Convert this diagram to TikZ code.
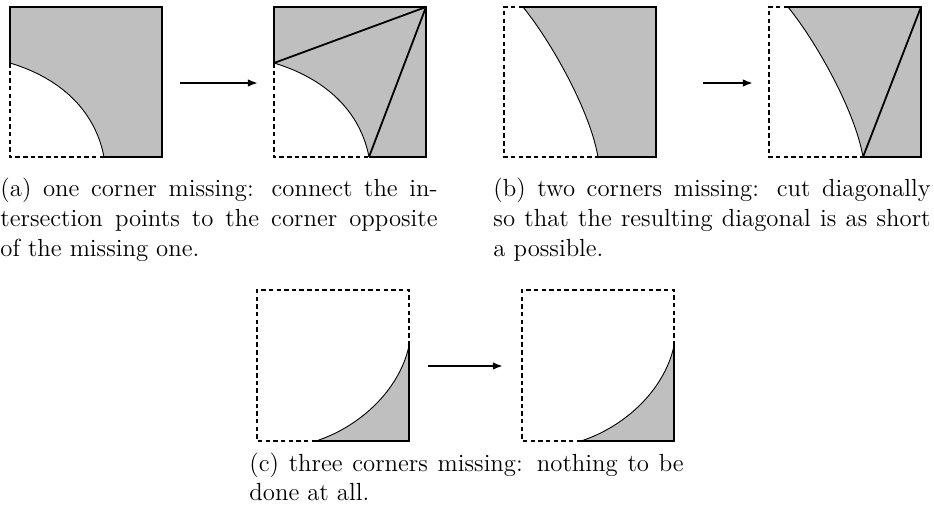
\documentclass[tikz,border=0pt]{standalone}
\usetikzlibrary{arrows.meta}
\begin{document}
\begin{tikzpicture}[x=0.4444pt,y=-0.4444pt,
  edge/.style={line width=0.8pt},
  miss/.style={line width=0.8pt, dash pattern=on 2pt off 1.4pt},
  cutline/.style={line width=0.4pt},
  diag/.style={line width=0.8pt},
  shade/.style={fill=black!25},
  arr/.style={line width=1.1pt,-{Latex[length=4.5pt,width=3.4pt]}},
  captext/.style={text width=194.3pt, align=justify, inner sep=0pt, anchor=north west, font=\fontsize{11}{13.3}\selectfont}]
\useasboundingbox (0,0) rectangle (934,515);

% ---- panel a1 ----
\begin{scope}[shift={(10,7)}]
  \fill[shade] (0,56) .. controls (50,71) and (85,103) .. (94,150) -- (152,150) -- (152,0) -- (0,0) -- cycle;
  \draw[cutline] (0,56) .. controls (50,71) and (85,103) .. (94,150);
  \draw[edge] (0,56) -- (0,0) -- (152,0) -- (152,150) -- (94,150);
  \draw[miss] (0,56) -- (0,150) -- (94,150);
\end{scope}
% ---- panel a2 ----
\begin{scope}[shift={(274,7)}]
  \fill[shade] (0,56) .. controls (50,71) and (86,103) .. (95,150) -- (152,150) -- (152,0) -- (0,0) -- cycle;
  \draw[cutline] (0,56) .. controls (50,71) and (86,103) .. (95,150);
  \draw[edge] (0,56) -- (0,0) -- (152,0) -- (152,150) -- (95,150);
  \draw[miss] (0,56) -- (0,150) -- (95,150);
  \draw[diag] (0,56) -- (152,0);
  \draw[diag] (95,150) -- (152,0);
\end{scope}
\coordinate (aS) at (180,83);
\coordinate (aE) at (258,83);
\draw[arr] (aS) -- (aE);

% ---- panel b1 ----
\begin{scope}[shift={(504,7)}]
  \fill[shade] (19,0) .. controls (46,33) and (86,103) .. (94,150) -- (152,150) -- (152,0) -- cycle;
  \draw[cutline] (19,0) .. controls (46,33) and (86,103) .. (94,150);
  \draw[edge] (19,0) -- (152,0) -- (152,150) -- (94,150);
  \draw[miss] (19,0) -- (0,0) -- (0,150) -- (94,150);
\end{scope}
% ---- panel b2 ----
\begin{scope}[shift={(769,7)}]
  \fill[shade] (19,0) .. controls (46,33) and (86,103) .. (94,150) -- (152,150) -- (152,0) -- cycle;
  \draw[cutline] (19,0) .. controls (46,33) and (86,103) .. (94,150);
  \draw[edge] (19,0) -- (152,0) -- (152,150) -- (94,150);
  \draw[miss] (19,0) -- (0,0) -- (0,150) -- (94,150);
  \draw[diag] (94,150) -- (152,0);
\end{scope}
\coordinate (bS) at (703,83);
\coordinate (bE) at (753,83);
\draw[arr] (bS) -- (bE);

% ---- panel c1 ----
\begin{scope}[shift={(257,290)}]
  \fill[shade] (59,151) .. controls (102,137) and (142,101) .. (152,56) -- (152,151) -- cycle;
  \draw[cutline] (59,151) .. controls (102,137) and (142,101) .. (152,56);
  \draw[edge] (152,56) -- (152,151) -- (59,151);
  \draw[miss] (59,151) -- (0,151) -- (0,0) -- (152,0) -- (152,56);
\end{scope}
% ---- panel c2 ----
\begin{scope}[shift={(522,290)}]
  \fill[shade] (59,151) .. controls (102,137) and (142,101) .. (152,56) -- (152,151) -- cycle;
  \draw[cutline] (59,151) .. controls (102,137) and (142,101) .. (152,56);
  \draw[edge] (152,56) -- (152,151) -- (59,151);
  \draw[miss] (59,151) -- (0,151) -- (0,0) -- (152,0) -- (152,56);
\end{scope}
\coordinate (cS) at (428,366);
\coordinate (cE) at (503,366);
\draw[arr] (cS) -- (cE);

% ---- captions ----
\node[captext] (capa) at (0,177.5) {(a) one corner missing: connect the in-\linebreak tersection points to the corner opposite\linebreak of the missing one.};
\node[captext] (capb) at (493,177.5) {(b) two corners missing: cut diagonally\linebreak so that the resulting diagonal is as short\linebreak a possible.};
\node[captext, text width=193pt] (capc) at (249,452) {(c) three corners missing: nothing to be\linebreak done at all.};
\end{tikzpicture}
\end{document}
